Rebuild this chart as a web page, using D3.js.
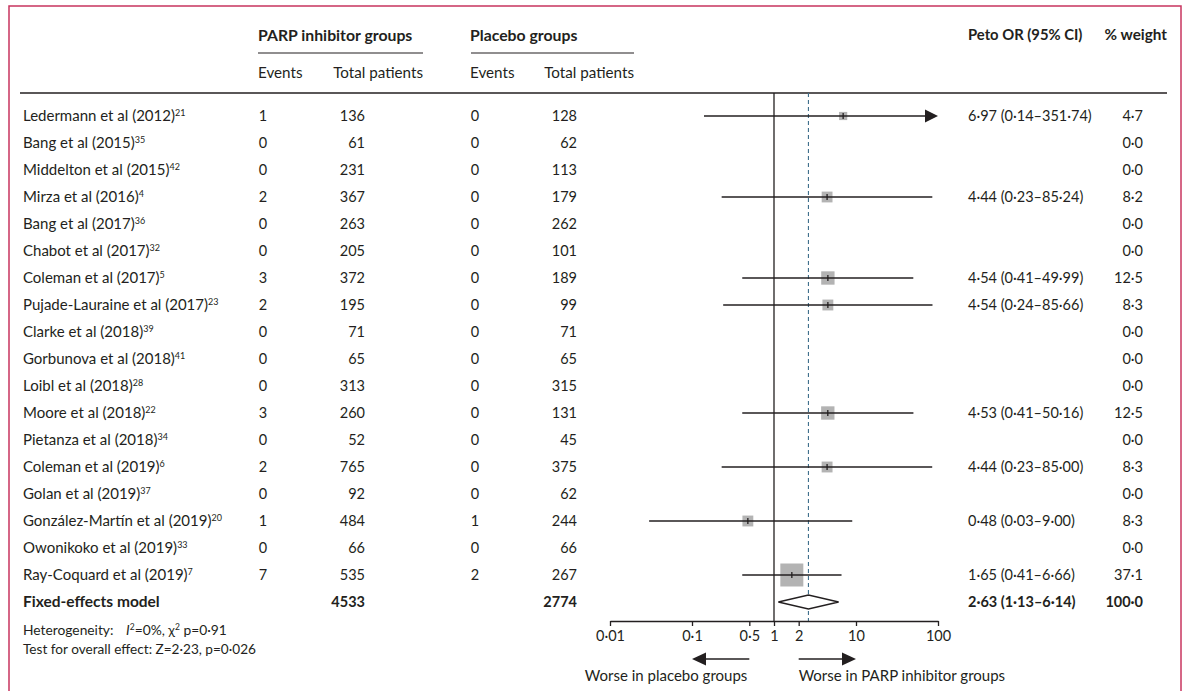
<!DOCTYPE html>
<html>
<head>
<meta charset="utf-8">
<script src="https://cdn.jsdelivr.net/npm/d3@7"></script>
<style>
  html, body { margin: 0; padding: 0; background: #fff; }
  svg { display: block; }
  text { font-family: Lato, "Open Sans", sans-serif; fill: #231f20; }
</style>
</head>
<body>
<svg id="chart" width="1184" height="691"></svg>
<script>
// ---------------- data ----------------
const studies = ["Ledermann et al (2012)", "Bang et al (2015)", "Middelton et al (2015)", "Mirza et al (2016)",
  "Bang et al (2017)", "Chabot et al (2017)", "Coleman et al (2017)", "Pujade-Lauraine et al (2017)",
  "Clarke et al (2018)", "Gorbunova et al (2018)", "Loibl et al (2018)", "Moore et al (2018)",
  "Pietanza et al (2018)", "Coleman et al (2019)", "Golan et al (2019)", "González-Martín et al (2019)",
  "Owonikoko et al (2019)", "Ray-Coquard et al (2019)"];
const refs = ["21", "35", "42", "4", "36", "32", "5", "23", "39", "41", "28", "22", "34", "6", "37", "20", "33", "7"];
const parpEvents = [1, 0, 0, 2, 0, 0, 3, 2, 0, 0, 0, 3, 0, 2, 0, 1, 0, 7];
const parpTotal = [136, 61, 231, 367, 263, 205, 372, 195, 71, 65, 313, 260, 52, 765, 92, 484, 66, 535];
const placeboEvents = [0, 0, 0, 0, 0, 0, 0, 0, 0, 0, 0, 0, 0, 0, 0, 1, 0, 2];
const placeboTotal = [128, 62, 113, 179, 262, 101, 189, 99, 71, 65, 315, 131, 45, 375, 62, 244, 66, 267];
const orValue = [6.97, null, null, 4.44, null, null, 4.54, 4.54, null, null, null, 4.53, null, 4.44, null, 0.48, null, 1.65];
const ciLow = [0.14, null, null, 0.23, null, null, 0.41, 0.24, null, null, null, 0.41, null, 0.23, null, 0.03, null, 0.41];
const ciHigh = [351.74, null, null, 85.24, null, null, 49.99, 85.66, null, null, null, 50.16, null, 85.00, null, 9.00, null, 6.66];
const weight = [4.7, 0, 0, 8.2, 0, 0, 12.5, 8.3, 0, 0, 0, 12.5, 0, 8.3, 0, 8.3, 0, 37.1];

const pooled = { label: "Fixed-effects model", parpTotal: 4533, placeboTotal: 2774, or: 2.63, lo: 1.13, hi: 6.14, weight: 100.0 };
const axisTicks = [0.01, 0.1, 0.5, 1, 2, 10, 100];
const arrowLeft = [0.5, 0.1];
const arrowRight = [2, 10];

// ---------------- layout ----------------
const svg = d3.select("#chart");
const FS = 14.5;      // numbers
const FN = 15;        // names / labels
const dotFmt = f => v => d3.format(f)(v).replace(/\./g, "\u00b7");
const f2 = dotFmt(".2f"), f1 = dotFmt(".1f");

const x = d3.scaleLog().domain([0.01, 100]).range([610, 938]);
const y = d3.scaleLinear().domain([0, 18]).range([116, 602]);
const size = d3.scaleSqrt().domain([0, 37.1]).range([0, 23]);

const col = { name: 23, pe: 263, pt: 365, ce: 475, ct: 577, or: 968, w: 1143 };

// border
svg.append("rect").attr("x", 9).attr("y", 6).attr("width", 1172).attr("height", 700)
  .attr("fill", "none").attr("stroke", "#c8345f").attr("stroke-width", 1.5);

// headers
const hdr = svg.append("g");
hdr.append("text").attr("x", 258).attr("y", 35).attr("dy", "0.35em").attr("font-size", 15.8).attr("font-weight", "bold").text("PARP inhibitor groups");
hdr.append("text").attr("x", 470).attr("y", 35).attr("dy", "0.35em").attr("font-size", 15.8).attr("font-weight", "bold").text("Placebo groups");
hdr.append("text").attr("x", 968).attr("y", 35).attr("dy", "0.35em").attr("font-size", 14.8).attr("font-weight", "bold").text("Peto OR (95% CI)");
hdr.append("text").attr("x", 1167).attr("y", 35).attr("dy", "0.35em").attr("font-size", 15.3).attr("text-anchor", "end").attr("font-weight", "bold").text("% weight");
svg.append("line").attr("x1", 258).attr("x2", 423).attr("y1", 53).attr("y2", 53).attr("stroke", "#231f20").attr("stroke-width", 1.2);
svg.append("line").attr("x1", 471).attr("x2", 634).attr("y1", 53).attr("y2", 53).attr("stroke", "#231f20").attr("stroke-width", 1.2);
hdr.append("text").attr("x", 258).attr("y", 73).attr("dy", "0.35em").attr("font-size", 15.2).text("Events");
hdr.append("text").attr("x", 423).attr("y", 73).attr("dy", "0.35em").attr("font-size", 15.2).attr("text-anchor", "end").text("Total patients");
hdr.append("text").attr("x", 470).attr("y", 73).attr("dy", "0.35em").attr("font-size", 15.2).text("Events");
hdr.append("text").attr("x", 634).attr("y", 73).attr("dy", "0.35em").attr("font-size", 15.2).attr("text-anchor", "end").text("Total patients");
svg.append("line").attr("x1", 20).attr("x2", 1167).attr("y1", 93).attr("y2", 93).attr("stroke", "#231f20").attr("stroke-width", 1.3);

// reference lines
svg.append("line").attr("x1", x(1)).attr("x2", x(1)).attr("y1", 93).attr("y2", 621)
  .attr("stroke", "#231f20").attr("stroke-width", 1.3);
svg.append("line").attr("x1", x(pooled.or)).attr("x2", x(pooled.or)).attr("y1", 93).attr("y2", 621)
  .attr("stroke", "#3f6f8c").attr("stroke-width", 1.1).attr("stroke-dasharray", "4,3");

// rows
const rows = svg.append("g").attr("font-size", FS);
studies.forEach((s, i) => {
  const yy = y(i);
  const t = rows.append("text").attr("x", col.name).attr("y", yy).attr("dy", "0.35em").attr("font-size", FN);
  t.append("tspan").text(s);
  t.append("tspan").attr("font-size", 9).attr("dy", "-5").text(refs[i]);
  rows.append("text").attr("x", col.pe).attr("y", yy).attr("dy", "0.35em").attr("text-anchor", "middle").text(parpEvents[i]);
  rows.append("text").attr("x", col.pt).attr("y", yy).attr("dy", "0.35em").attr("text-anchor", "end").text(parpTotal[i]);
  rows.append("text").attr("x", col.ce).attr("y", yy).attr("dy", "0.35em").attr("text-anchor", "middle").text(placeboEvents[i]);
  rows.append("text").attr("x", col.ct).attr("y", yy).attr("dy", "0.35em").attr("text-anchor", "end").text(placeboTotal[i]);
  rows.append("text").attr("x", col.w).attr("y", yy).attr("dy", "0.35em").attr("text-anchor", "end").text(f1(weight[i]));
  if (orValue[i] != null) {
    rows.append("text").attr("x", col.or).attr("y", yy).attr("dy", "0.35em")
      .text(`${f2(orValue[i])} (${f2(ciLow[i])}\u2013${f2(ciHigh[i])})`);
    const hiClamped = Math.min(ciHigh[i], 100);
    const sq = size(weight[i]);
    svg.append("rect").attr("x", x(orValue[i]) - sq / 2).attr("y", yy - sq / 2)
      .attr("width", sq).attr("height", sq).attr("fill", "#b3b3b3");
    svg.append("line").attr("x1", x(ciLow[i])).attr("x2", ciHigh[i] > 100 ? x(hiClamped) - 10 : x(hiClamped))
      .attr("y1", yy).attr("y2", yy).attr("stroke", "#231f20").attr("stroke-width", 1.3);
    svg.append("line").attr("x1", x(orValue[i])).attr("x2", x(orValue[i]))
      .attr("y1", yy - 3).attr("y2", yy + 3).attr("stroke", "#231f20").attr("stroke-width", 1.3);
    if (ciHigh[i] > 100) {
      const tip = x(100);
      svg.append("path").attr("d", `M${tip},${yy} L${tip - 13},${yy - 6.5} L${tip - 13},${yy + 6.5} Z`).attr("fill", "#231f20");
    }
  }
});

// pooled row
const py = y(18);
const pg = svg.append("g").attr("font-size", FS).attr("font-weight", "bold");
pg.append("text").attr("x", col.name).attr("y", py).attr("dy", "0.35em").attr("font-size", 15.5).text(pooled.label);
pg.append("text").attr("x", col.pt).attr("y", py).attr("dy", "0.35em").attr("text-anchor", "end").text(pooled.parpTotal);
pg.append("text").attr("x", col.ct).attr("y", py).attr("dy", "0.35em").attr("text-anchor", "end").text(pooled.placeboTotal);
pg.append("text").attr("x", col.or).attr("y", py).attr("dy", "0.35em").text(`${f2(pooled.or)} (${f2(pooled.lo)}\u2013${f2(pooled.hi)})`);
pg.append("text").attr("x", col.w).attr("y", py).attr("dy", "0.35em").attr("text-anchor", "end").text(f1(pooled.weight));
svg.append("path")
  .attr("d", `M${x(pooled.lo)},${py} L${x(pooled.or)},${py - 7} L${x(pooled.hi)},${py} L${x(pooled.or)},${py + 7} Z`)
  .attr("fill", "#fff").attr("stroke", "#231f20").attr("stroke-width", 1.3);

// heterogeneity
const het = svg.append("g").attr("font-size", 13.8);
const h1 = het.append("text").attr("x", col.name).attr("y", 630).attr("dy", "0.35em");
h1.append("tspan").text("Heterogeneity:");
h1.append("tspan").attr("x", 126).attr("font-style", "italic").text("I");
h1.append("tspan").attr("font-size", 8.5).attr("dy", -5).text("2");
h1.append("tspan").attr("dy", 5).text("=0%, \u03c7");
h1.append("tspan").attr("font-size", 8.5).attr("dy", -5).text("2");
h1.append("tspan").attr("dy", 5).text("\u00a0p=0\u00b791");
het.append("text").attr("x", col.name).attr("y", 649).attr("dy", "0.35em").attr("font-size", 13.6).text("Test for overall effect: Z=2\u00b723, p=0\u00b7026");

// axis
const axis = d3.axisBottom(x).tickValues(axisTicks).tickSize(5).tickSizeOuter(0).tickPadding(5)
  .tickFormat(d => String(d).replace(".", "\u00b7"));
const ag = svg.append("g").attr("transform", "translate(0,621)").call(axis);
ag.select(".domain").attr("stroke", "#231f20").attr("stroke-width", 1.3);
ag.selectAll(".tick line").attr("stroke", "#231f20").attr("stroke-width", 1.3);
ag.selectAll(".tick text").attr("font-size", FS).attr("font-family", "Lato, sans-serif").attr("fill", "#231f20");

// direction arrows
const ay = 659;
function arrow(from, to) {
  const x0 = x(from), x1 = x(to), dir = Math.sign(x1 - x0);
  svg.append("line").attr("x1", x0).attr("x2", x1 - dir * 12).attr("y1", ay).attr("y2", ay)
    .attr("stroke", "#231f20").attr("stroke-width", 1.5);
  svg.append("path").attr("d", `M${x1},${ay} L${x1 - dir * 14},${ay - 6.5} L${x1 - dir * 14},${ay + 6.5} Z`).attr("fill", "#231f20");
}
arrow(arrowLeft[0], arrowLeft[1]);
arrow(arrowRight[0], arrowRight[1]);
svg.append("text").attr("x", x(0.5) - 2).attr("y", 676).attr("dy", "0.35em").attr("text-anchor", "end")
  .attr("font-size", FN).text("Worse in placebo groups");
svg.append("text").attr("x", x(2)).attr("y", 676).attr("dy", "0.35em")
  .attr("font-size", FN).text("Worse in PARP inhibitor groups");
</script>
</body>
</html>
